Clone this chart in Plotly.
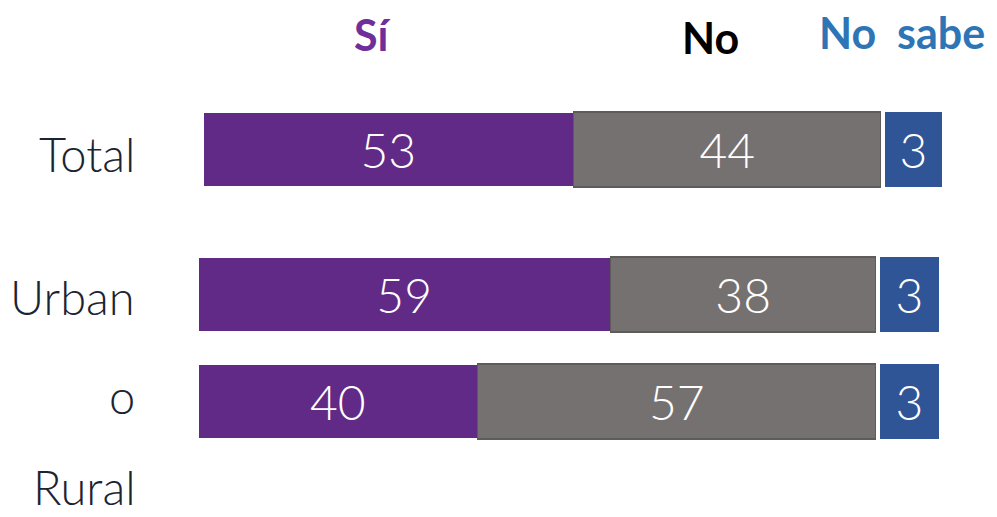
import plotly.graph_objects as go

# ---- data ----
categories_top = ["Total"]
categories_bottom = ["Urbano", "Rural"]
si_top = [53]
no_top = [44]
ns_top = [3]
si_bottom = [59, 40]
no_bottom = [38, 57]
ns_bottom = [3, 3]
series_names = ["Sí", "No", "No  sabe"]
row_label_lines = ["Total", "Urban", "o", "Rural"]

C_SI = "#622A87"
C_NO = "#757171"
C_NO_LINE = "#5E5B5B"
C_NS = "#2F5597"
H_SI = "#6F2E9A"
H_NO = "#000000"
H_NS = "#2E75B6"
LABEL = "#1B2433"
FONT = "Lato"

W, H = 997, 517

def px_x(p):
    return p / W

def px_y(p):
    return 1 - p / H

fig = go.Figure()

def add_row(cats, si, no, ns, xa_main, xa_ns, ya):
    tf = dict(color="white", size=48, family=FONT, weight=300)
    fig.add_trace(go.Bar(y=cats, x=si, orientation="h", name=series_names[0],
                         marker=dict(color=C_SI, line=dict(width=1, color="white")),
                         text=si, textposition="inside", insidetextanchor="middle",
                         textfont=tf, constraintext="none", textangle=0,
                         xaxis=xa_main, yaxis=ya, width=0.7, showlegend=False))
    fig.add_trace(go.Bar(y=cats, x=no, orientation="h", name=series_names[1],
                         marker=dict(color=C_NO, line=dict(width=1.5, color=C_NO_LINE)),
                         text=no, textposition="inside", insidetextanchor="middle",
                         textfont=tf, constraintext="none", textangle=0,
                         xaxis=xa_main, yaxis=ya, width=0.7, showlegend=False))
    fig.add_trace(go.Bar(y=cats, x=ns, orientation="h", name=series_names[2],
                         marker=dict(color=C_NS, line=dict(width=0)),
                         text=ns, textposition="inside", insidetextanchor="middle",
                         textfont=tf, constraintext="none", textangle=0,
                         xaxis=xa_ns, yaxis=ya, width=0.7, showlegend=False))

add_row(categories_top, si_top, no_top, ns_top, "x", "x2", "y")
add_row(categories_bottom, si_bottom, no_bottom, ns_bottom, "x3", "x4", "y2")

main_top = max(a + b for a, b in zip(si_top, no_top))
main_bot = max(a + b for a, b in zip(si_bottom, no_bottom))
ns_max = max(ns_top + ns_bottom)

hidden = dict(showgrid=False, zeroline=False, showticklabels=False, showline=False, fixedrange=True)

fig.update_layout(
    width=W, height=H,
    margin=dict(l=0, r=0, t=0, b=0),
    paper_bgcolor="white", plot_bgcolor="rgba(0,0,0,0)",
    barmode="stack",
    xaxis=dict(domain=[px_x(203), px_x(881)], range=[0, main_top], anchor="y", **hidden),
    xaxis2=dict(domain=[px_x(885), px_x(942)], range=[0, ns_max], anchor="y", **hidden),
    xaxis3=dict(domain=[px_x(198), px_x(876)], range=[0, main_bot], anchor="y2", **hidden),
    xaxis4=dict(domain=[px_x(880), px_x(939)], range=[0, ns_max], anchor="y2", **hidden),
    yaxis=dict(domain=[px_y(203), px_y(96)], range=[-0.5, 0.5], type="category",
               categoryorder="array", categoryarray=categories_top, **hidden),
    yaxis2=dict(domain=[px_y(455), px_y(241)], range=[1.5, -0.5], type="category",
                categoryorder="array", categoryarray=categories_bottom, **hidden),
    font=dict(family=FONT),
)

# headers
hdr = [
    (series_names[0], 373, 35, H_SI),
    (series_names[1], 710, 38, H_NO),
    (series_names[2], 902, 33, H_NS),
]
for txt, x, y, col in hdr:
    fig.add_annotation(text=txt, xref="paper", yref="paper", x=px_x(x), y=px_y(y),
                       xanchor="center", yanchor="middle", showarrow=False,
                       font=dict(family=FONT, size=43, color=col, weight="bold"))

# row labels
lab_font = dict(family=FONT, size=47, color=LABEL, weight=300)
fig.add_annotation(text=row_label_lines[0], xref="paper", yref="y", x=px_x(137), y=categories_top[0],
                   xanchor="right", yanchor="middle", showarrow=False, font=lab_font, yshift=-4)
fig.add_annotation(text=row_label_lines[1], xref="paper", yref="y2", x=px_x(137), y=categories_bottom[0],
                   xanchor="right", yanchor="middle", showarrow=False, font=lab_font, yshift=-2)
fig.add_annotation(text=row_label_lines[2], xref="paper", yref="y2", x=px_x(137), y=categories_bottom[1],
                   xanchor="right", yanchor="middle", showarrow=False, font=lab_font, yshift=6)
fig.add_annotation(text=row_label_lines[3], xref="paper", yref="y2", x=px_x(137), y=categories_bottom[1],
                   xanchor="right", yanchor="middle", showarrow=False, font=lab_font, yshift=-85,
                   borderpad=0)

fig.write_html("out.html", config={"displayModeBar": False},
               post_script="document.body.style.margin='0';document.body.style.padding='0';document.body.style.overflow='hidden';")
